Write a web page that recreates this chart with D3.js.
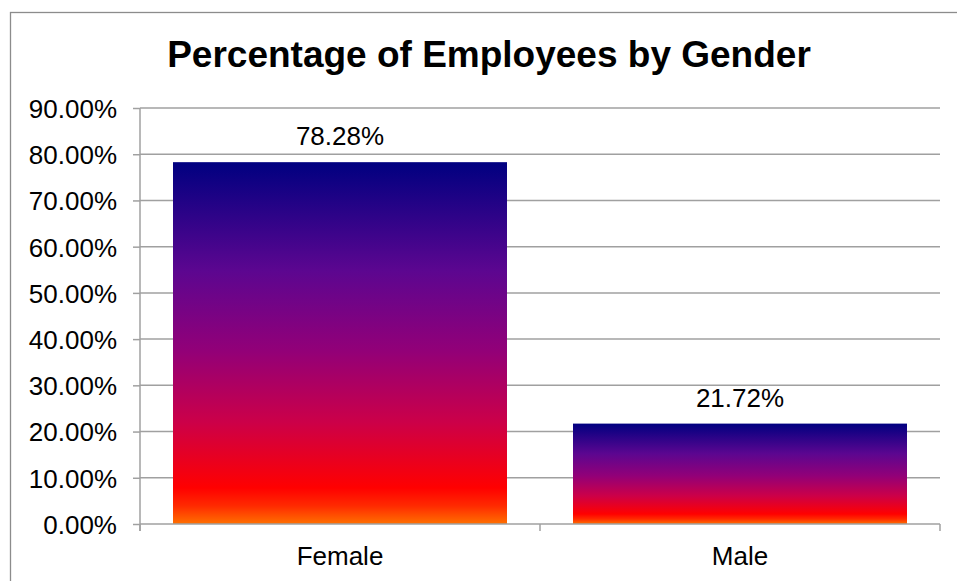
<!DOCTYPE html>
<html>
<head>
<meta charset="utf-8">
<script src="https://cdn.jsdelivr.net/npm/d3@7/dist/d3.min.js"></script>
<style>
  html, body { margin: 0; padding: 0; background: #fff; }
  svg { display: block; font-family: "Liberation Sans", Arial, sans-serif; }
</style>
</head>
<body>
<svg id="chart" width="957" height="581"></svg>
<script>
// Share of employees by gender
const categories = ["Female", "Male"];
const shares = [0.7828, 0.2172];
const yTickValues = [0, 0.1, 0.2, 0.3, 0.4, 0.5, 0.6, 0.7, 0.8, 0.9];
const titleText = "Percentage of Employees by Gender";

const svg = d3.select("#chart");
const plot = { left: 140, right: 940, top: 108, bottom: 524 };
const gridColor = "#a0a0a0";
const labelSize = 26;

// Outer chart frame (runs past the right and bottom edges of the view)
svg.append("rect")
  .attr("x", 10.5).attr("y", 12.5)
  .attr("width", 1000).attr("height", 700)
  .attr("fill", "none").attr("stroke", "#8c8c8c").attr("stroke-width", 1.3);

// Title
svg.append("text")
  .attr("x", 489).attr("y", 67)
  .attr("text-anchor", "middle")
  .attr("font-size", 37).attr("font-weight", "bold")
  .attr("fill", "#000")
  .text(titleText);

const x = d3.scaleBand()
  .domain(categories)
  .range([plot.left, plot.right])
  .paddingInner(0.165)
  .paddingOuter(0.0825);

const y = d3.scaleLinear()
  .domain([0, 0.9])
  .range([plot.bottom, plot.top]);

// Horizontal gridlines
svg.append("g")
  .selectAll("line")
  .data(yTickValues.filter(v => v > 0))
  .join("line")
  .attr("x1", plot.left).attr("x2", plot.right)
  .attr("y1", d => y(d)).attr("y2", d => y(d))
  .attr("stroke", gridColor).attr("stroke-width", 1.5);

// Fill gradient for the bars (navy at the top fading through purple and red to orange)
const defs = svg.append("defs");
const grad = defs.append("linearGradient")
  .attr("id", "barFill")
  .attr("x1", 0).attr("y1", 0).attr("x2", 0).attr("y2", 1);
[
  [0, "#000080"],
  [0.3, "#5c0690"],
  [0.52, "#920078"],
  [0.72, "#cc0048"],
  [0.9, "#ff0000"],
  [0.95, "#ff2a00"],
  [1, "#ff7000"]
].forEach(([o, c]) => grad.append("stop").attr("offset", o).attr("stop-color", c));

// Bars
svg.append("g")
  .selectAll("rect")
  .data(categories.map((c, i) => ({ c, v: shares[i] })))
  .join("rect")
  .attr("x", d => x(d.c))
  .attr("width", x.bandwidth())
  .attr("y", d => y(d.v))
  .attr("height", d => y(0) - y(d.v))
  .attr("fill", "url(#barFill)");

// Value labels
const pct = d3.format(".2%");
svg.append("g")
  .selectAll("text")
  .data(categories.map((c, i) => ({ c, v: shares[i] })))
  .join("text")
  .attr("x", d => x(d.c) + x.bandwidth() / 2)
  .attr("y", d => y(d.v) - 17)
  .attr("text-anchor", "middle")
  .attr("font-size", labelSize)
  .attr("fill", "#000")
  .text(d => pct(d.v));

// Y axis
const yAxis = svg.append("g")
  .attr("transform", `translate(${plot.left},0)`)
  .call(d3.axisLeft(y).tickValues(yTickValues).tickFormat(pct).tickSize(7).tickPadding(16));
yAxis.select(".domain").attr("stroke", gridColor).attr("stroke-width", 1.5)
  .attr("d", `M0,${plot.top}V${plot.bottom + 7}`);
yAxis.selectAll(".tick line").attr("stroke", gridColor).attr("stroke-width", 1.5);
yAxis.selectAll(".tick text").attr("font-size", labelSize).attr("fill", "#000")
  .attr("font-family", "Liberation Sans, Arial, sans-serif").attr("dy", "0.36em");

// X axis baseline and category separators
const xAxis = svg.append("g");
xAxis.append("line")
  .attr("x1", plot.left).attr("x2", plot.right)
  .attr("y1", plot.bottom).attr("y2", plot.bottom)
  .attr("stroke", gridColor).attr("stroke-width", 1.5);
const step = x.step();
const sepXs = [plot.left, ...categories.map(c => x(c) - x.paddingOuter() * step + step)];
xAxis.selectAll("line.sep")
  .data(sepXs)
  .join("line")
  .attr("class", "sep")
  .attr("x1", d => d).attr("x2", d => d)
  .attr("y1", plot.bottom).attr("y2", plot.bottom + 7)
  .attr("stroke", gridColor).attr("stroke-width", 1.5);
xAxis.selectAll("text")
  .data(categories)
  .join("text")
  .attr("x", d => x(d) + x.bandwidth() / 2)
  .attr("y", 565)
  .attr("text-anchor", "middle")
  .attr("font-size", labelSize)
  .attr("fill", "#000")
  .text(d => d);
</script>
</body>
</html>
